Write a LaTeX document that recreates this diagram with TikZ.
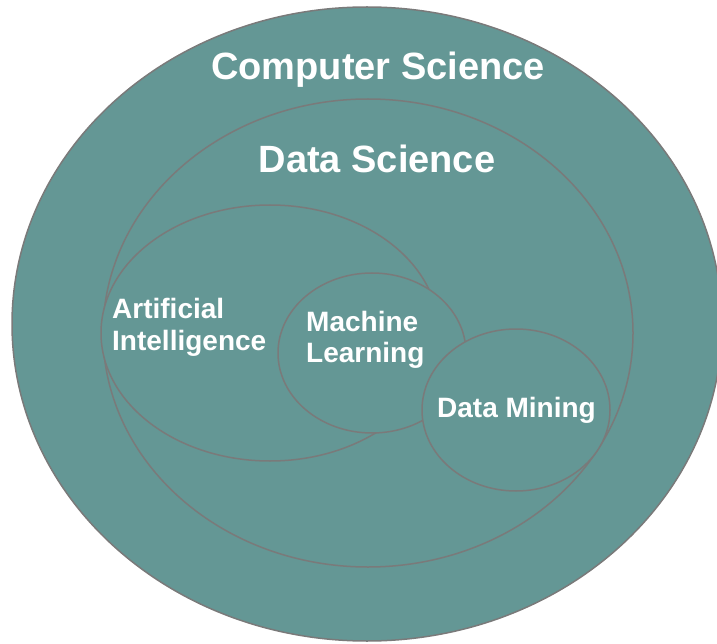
\documentclass[tikz,border=0pt]{standalone}
\usepackage{fontspec}
\setmainfont{Liberation Sans}
\definecolor{tealfill}{RGB}{100,151,149}
\definecolor{rimgray}{RGB}{122,122,122}
\begin{document}
\begin{tikzpicture}[x=1pt,y=-1pt,
  setshape/.style={fill=tealfill,draw=rimgray,line width=1.5pt},
  biglabel/.style={text=white,font=\bfseries\fontsize{38}{44}\selectfont,inner sep=0pt,anchor=base},
  smalllabel/.style={text=white,font=\bfseries\fontsize{28}{32}\selectfont,inner sep=0pt,anchor=base west}]
\useasboundingbox (0,0) rectangle (717,644);
\coordinate (csc) at (367,324);
\coordinate (dsc) at (368,333);
\coordinate (aic) at (270,333);
\coordinate (mlc) at (372,353);
\coordinate (dmc) at (516,410);
\draw[setshape] (csc) ellipse [x radius=355, y radius=317];
\draw[setshape] (dsc) ellipse [x radius=265, y radius=234];
\draw[setshape] (aic) ellipse [x radius=169, y radius=128];
\draw[setshape] (mlc) ellipse [x radius=94, y radius=80];
\draw[setshape] (dmc) ellipse [x radius=94, y radius=81];
\node[biglabel] (cs) at (378,80) {Computer Science};
\node[biglabel] (ds) at (377,173) {Data Science};
\node[smalllabel] (ai1) at (112,318) {Artificial};
\node[smalllabel] (ai2) at (112,350) {Intelligence};
\node[smalllabel] (ml1) at (306,331) {Machine};
\node[smalllabel] (ml2) at (306,362) {Learning};
\node[smalllabel] (dm) at (437,417) {Data Mining};
\end{tikzpicture}
\end{document}
